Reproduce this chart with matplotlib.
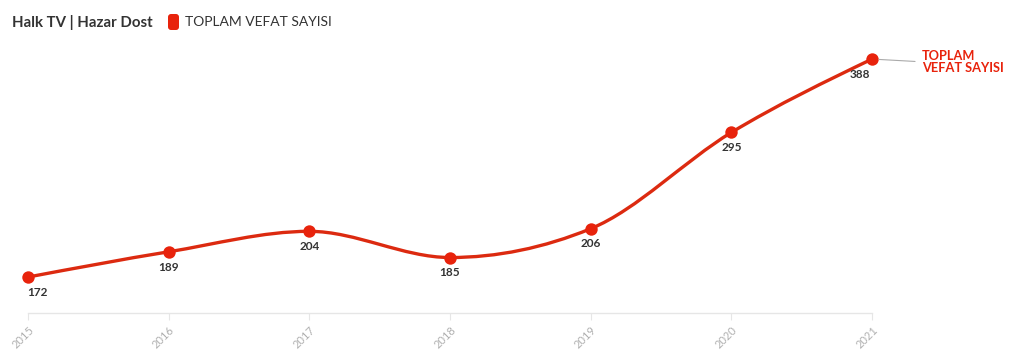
import numpy as np
import matplotlib
matplotlib.use("Agg")
import matplotlib.pyplot as plt
from matplotlib.path import Path
from matplotlib.patches import PathPatch, FancyBboxPatch

plt.rcParams['font.family'] = ['Lato', 'DejaVu Sans']

years = [2015, 2016, 2017, 2018, 2019, 2020, 2021]
deaths = [172, 189, 204, 185, 206, 295, 388]
series_name = "TOPLAM VEFAT SAYISI"
title = "Halk TV | Hazar Dost"

red = "#e8230c"
line_red = "#dc2a10"


def monotone_path(xs, ys):
    # monotone-x cubic curve (like d3.curveMonotoneX), done in log space of y
    x = np.asarray(xs, float)
    y = np.log(np.asarray(ys, float))
    n = len(x)
    h = np.diff(x)
    s = np.diff(y) / h
    t = np.zeros(n)
    for i in range(1, n - 1):
        if s[i - 1] * s[i] <= 0:
            t[i] = 0
        else:
            p = (s[i - 1] * h[i] + s[i] * h[i - 1]) / (h[i - 1] + h[i])
            t[i] = (np.sign(s[i - 1]) + np.sign(s[i])) * min(abs(s[i - 1]), abs(s[i]), 0.5 * abs(p))
    t[0] = (3 * s[0] - t[1]) / 2
    t[-1] = (3 * s[-1] - t[-2]) / 2
    verts = [(x[0], np.exp(y[0]))]
    codes = [Path.MOVETO]
    for i in range(n - 1):
        dx = h[i] / 3
        verts.append((x[i] + dx, np.exp(y[i] + dx * t[i])))
        verts.append((x[i + 1] - dx, np.exp(y[i + 1] - dx * t[i + 1])))
        verts.append((x[i + 1], np.exp(y[i + 1])))
        codes += [Path.CURVE4] * 3
    return Path(verts, codes)


fig = plt.figure(figsize=(10.2, 3.58), dpi=100)
ax = fig.add_axes([28 / 1020, 45 / 358, (872 - 28) / 1020, 273 / 358])
ax.set_yscale('log')
ax.set_xlim(years[0], years[-1])
ax.set_ylim(150.4, 416.6)

ax.add_patch(PathPatch(monotone_path(years, deaths), fill=False, edgecolor=line_red,
                       lw=2.4, clip_on=False, zorder=2))
ax.scatter(years, deaths, s=80, color=red, zorder=3, clip_on=False, linewidths=0)

for i, (yr, v) in enumerate(zip(years, deaths)):
    dx = 0
    if i == 0:
        dx = 7
    elif i == len(years) - 1:
        dx = -9
    ax.annotate(str(v), (yr, v), xytext=(dx, -7), textcoords='offset points',
                ha='center', va='top', fontsize=8.5, fontweight='bold', color='#333333')

# end label with connector
ax.annotate("TOPLAM\nVEFAT SAYISI", (years[-1], deaths[-1]), xytext=(36, -2),
            textcoords='offset points', ha='left', va='center', fontsize=9.2,
            fontweight='bold', color=red, linespacing=0.95, annotation_clip=False,
            arrowprops=dict(arrowstyle='-', color='#aaaaaa', lw=0.8,
                            shrinkA=3, shrinkB=5, relpos=(0, 0.5)))

for side in ['top', 'right', 'left']:
    ax.spines[side].set_visible(False)
ax.spines['bottom'].set_color('#e6e6e6')
ax.spines['bottom'].set_linewidth(1)
ax.set_yticks([])
ax.set_yticks([], minor=True)
ax.set_xticks(years)
ax.set_xticklabels([str(y) for y in years], rotation=45, ha='right',
                   rotation_mode='anchor', fontsize=8, color='#b0b0b0')
ax.tick_params(axis='x', length=5, color='#e6e6e6', pad=3)

# header
fig.text(12 / 1020, 1 - 22 / 358, title, fontsize=10.8, fontweight='bold',
         color='#333333', va='center', ha='left')
fig.patches.append(FancyBboxPatch((1.68, 3.58 - 0.30), 0.11, 0.16,
                                  boxstyle='round,pad=0,rounding_size=0.03',
                                  transform=fig.dpi_scale_trans, facecolor=red,
                                  edgecolor='none', figure=fig))
fig.text(185 / 1020, 1 - 22 / 358, series_name, fontsize=10, color='#333333',
         va='center', ha='left')

fig.savefig("out.png", dpi=100)
